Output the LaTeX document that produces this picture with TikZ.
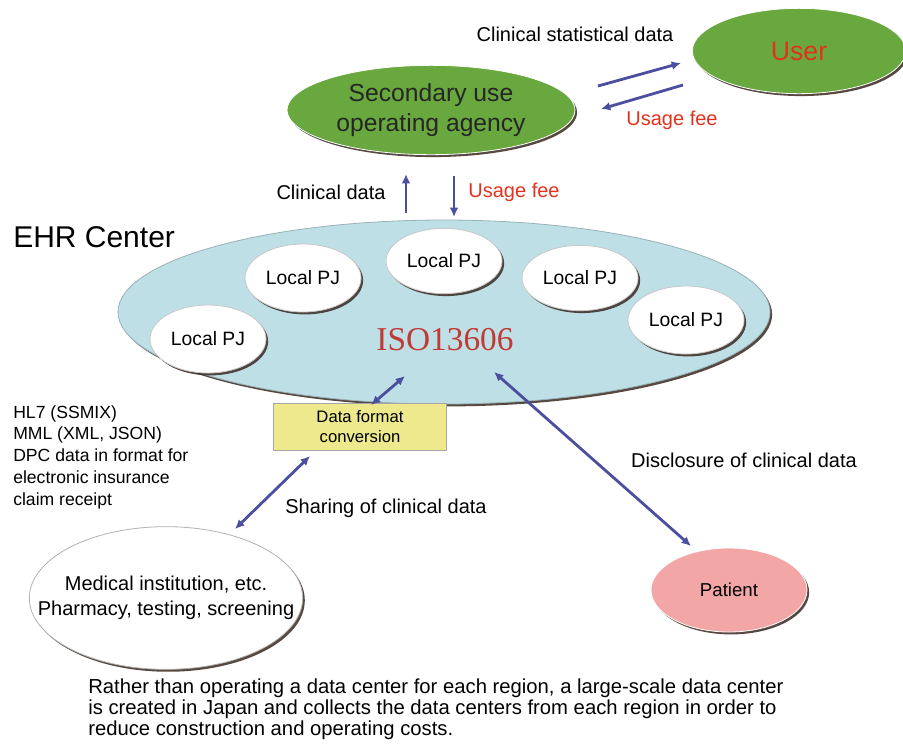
\documentclass[tikz,border=0pt]{standalone}
\usepackage{fontspec}
\setmainfont{Liberation Sans}
\newfontfamily\isofont{Liberation Serif}
\usetikzlibrary{shapes.geometric,shadows,arrows.meta}
\definecolor{agreen}{HTML}{68A83E}
\definecolor{ehrblue}{HTML}{BEDFE6}
\definecolor{pink}{HTML}{F2A6A6}
\definecolor{boxyellow}{HTML}{EDE98C}
\definecolor{arrowblue}{HTML}{4B4FA0}
\definecolor{txtred}{HTML}{E2321E}
\definecolor{isored}{HTML}{C23A36}
\definecolor{shadowc}{HTML}{3A2A22}
\tikzset{
  shadowed/.style={drop shadow={shadow xshift=1.6pt,shadow yshift=-1.8pt,fill=shadowc,opacity=0.85}},
  oval/.style={ellipse,inner sep=0pt,draw=white,line width=0.6pt,shadowed},
  pjbox/.style={oval,fill=white,draw=black!22,minimum width=87pt,minimum height=51pt,
    font=\fontsize{14.5}{17}\selectfont},
  flow/.style={draw=arrowblue,line width=2.1pt,-{Latex[length=7pt,width=6.5pt]}},
  bflow/.style={draw=arrowblue,line width=2.1pt,{Latex[length=7pt,width=6.5pt]}-{Latex[length=7pt,width=6.5pt]}},
  lbl/.style={inner sep=0pt,font=\fontsize{15}{18}\selectfont},
  redlbl/.style={lbl,text=txtred},
  plain/.style={inner sep=0pt,align=center},
}
\begin{document}
\begin{tikzpicture}[x=0.75pt,y=-0.75pt]
\useasboundingbox (0,0) rectangle (903,744);
\fill[white] (0,0) rectangle (903,744);

% top ellipses
\node[oval,fill=agreen,minimum width=216pt,minimum height=67pt] (sec) at (431,110) {};
\node[plain,text=black!85,font=\fontsize{18.5}{23}\selectfont] (sectxt) at (sec.center)
  {Secondary use\\operating agency};
\node[oval,fill=agreen,minimum width=160pt,minimum height=64pt] (user) at (799,51) {};
\node[plain,text=txtred,font=\fontsize{20}{22}\selectfont] (usertxt) at (user.center) {User};

% EHR center
\node[oval,fill=ehrblue,draw=ehrblue!80!black,minimum width=489pt,minimum height=138pt] (ehr) at (444,312) {};
\node[pjbox] (pj1) at (208,339) {Local PJ};
\node[pjbox] (pj2) at (303,278) {Local PJ};
\node[pjbox,minimum height=49pt] (pj3) at (444,261) {Local PJ};
\node[pjbox,minimum height=49pt] (pj4) at (580,278) {Local PJ};
\node[pjbox] (pj5) at (686,320) {Local PJ};
\node[inner sep=0pt,text=isored,font=\isofont\fontsize{25}{28}\selectfont] (iso) at (445,340) {ISO13606};
\node[inner sep=0pt,anchor=west,font=\fontsize{22.5}{26}\selectfont] (ehrlbl) at (13,237) {EHR Center};

% conversion box
\node[draw=black!35,fill=boxyellow,minimum width=130pt,minimum height=35pt,align=center,
  inner sep=0pt,font=\fontsize{12.5}{15}\selectfont] (conv) at (360,427) {Data format\\conversion};

% lower ellipses
\node[oval,fill=white,draw=black!30,minimum width=205pt,minimum height=107pt] (med) at (166,598) {};
\node[plain,font=\fontsize{15}{18.5}\selectfont] (medtxt) at (med.center)
  {Medical institution, etc.\\Pharmacy, testing, screening};
\node[oval,fill=pink,minimum width=117pt,minimum height=63pt] (pat) at (729,590) {};
\node[plain,font=\fontsize{14}{17}\selectfont] (pattxt) at (pat.center) {Patient};

% labels
\node[lbl] (csd) at (575,34) {Clinical statistical data};
\node[redlbl] (uf1) at (672,120) {Usage fee};
\node[lbl] (cd) at (331,192) {Clinical data};
\node[redlbl] (uf2) at (514,192) {Usage fee};
\node[lbl] (share) at (386,508) {Sharing of clinical data};
\node[lbl] (disc) at (744,460) {Disclosure of clinical data};
\node[inner sep=0pt,anchor=north west,align=left,font=\fontsize{13.2}{16.4}\selectfont] (fmts) at (13,405)
  {HL7 (SSMIX)\\MML (XML, JSON)\\DPC data in format for\\electronic insurance\\claim receipt};
\node[inner sep=0pt,anchor=north west,align=left,font=\fontsize{15.2}{15.6}\selectfont] (note) at (88,679)
  {Rather than operating a data center for each region, a large-scale data center\\
   is created in Japan and collects the data centers from each region in order to\\
   reduce construction and operating costs.};

% connector end points
\coordinate (a1s) at (598,86);  \coordinate (a1e) at (681,63);
\coordinate (a2s) at (683,85);  \coordinate (a2e) at (601,109);
\coordinate (a3s) at (406,213); \coordinate (a3e) at (406,174);
\coordinate (a4s) at (454,176); \coordinate (a4e) at (454,217);
\coordinate (isoL) at (405,376); \coordinate (convT) at (371,405);
\coordinate (convB) at (310,456); \coordinate (medT) at (235,529);
\coordinate (isoR) at (494,372); \coordinate (patT) at (691,546);

\draw[flow] (a1s) -- (a1e);
\draw[flow] (a2s) -- (a2e);
\draw[flow] (a3s) -- (a3e);
\draw[flow] (a4s) -- (a4e);
\draw[bflow] (isoL) -- (convT);
\draw[bflow] (convB) -- (medT);
\draw[bflow] (isoR) -- (patT);
\end{tikzpicture}
\end{document}
